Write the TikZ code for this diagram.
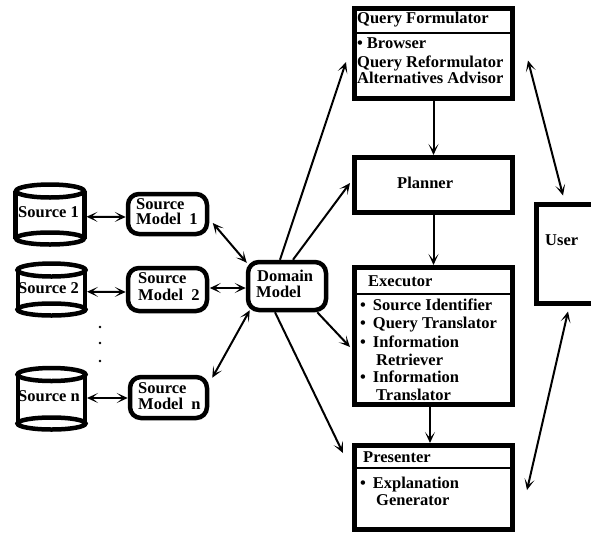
\documentclass[tikz,border=0pt]{standalone}
\usepackage{fontspec}
\setmainfont{Liberation Serif}
\usetikzlibrary{arrows.meta,calc}
\begin{document}
\begin{tikzpicture}[x=1pt,y=-1pt,
  lbl/.style={anchor=base west, inner sep=0pt, font=\fontsize{16.5}{16.5}\selectfont\bfseries},
  blk/.style={draw, line width=5pt, inner sep=0pt},
  rbox/.style={draw, line width=4.5pt, rounded corners=11pt, inner sep=0pt},
  cyl/.style={inner sep=0pt, outer sep=0pt},
  cylline/.style={line width=4.5pt},
  hdr/.style={line width=2.5pt},
  tip/.tip={Stealth[length=11pt,width=10pt,inset=6pt]},
  arr/.style={line width=2pt, -tip},
  darr/.style={line width=2pt, tip-tip}]
\clip (0,0) rectangle (591,533);

% right column boxes
\node[blk, minimum width=158pt, minimum height=90pt] (qf) at (433.5,53) {};
\draw[hdr] ($(qf.north west)+(0,27.5)$) -- ($(qf.north east)+(0,27.5)$);
\node[blk, minimum width=158pt, minimum height=55pt] (pl) at (433.5,185) {};
\node[blk, minimum width=158pt, minimum height=137pt] (ex) at (433.5,336) {};
\draw[hdr] ($(ex.north west)+(0,29)$) -- ($(ex.north east)+(0,29)$);
\node[blk, minimum width=158pt, minimum height=84pt] (pr) at (433.5,487.5) {};
\draw[hdr] ($(pr.north west)+(0,25)$) -- ($(pr.north east)+(0,25)$);
\node[blk, minimum width=64pt, minimum height=99pt] (user) at (568,253.5) {};

% source models and domain model
\node[rbox, minimum width=79pt, minimum height=40pt] (sm1) at (167.5,214) {};
\node[rbox, minimum width=79pt, minimum height=43pt] (sm2) at (167.5,289.5) {};
\node[rbox, minimum width=77pt, minimum height=41pt] (smn) at (168.5,397.5) {};
\node[rbox, minimum width=78pt, minimum height=48pt] (dm) at (287,286) {};

% sources (cylinders)
\node[cyl, minimum width=69pt, minimum height=47.5pt] (s1) at (50,214.75) {};
\node[cyl, minimum width=67pt, minimum height=39.5pt] (s2) at (51.5,289.75) {};
\node[cyl, minimum width=67pt, minimum height=49pt] (sn) at (51.5,399) {};
\foreach \s in {s1,s2,sn}{
  \draw[cylline] (\s.north west) -- (\s.south west) (\s.north east) -- (\s.south east);
  \draw[cylline, fill=white] (\s.north) ellipse [x radius=34, y radius=6.5];
  \draw[cylline, fill=white] (\s.south) ellipse [x radius=34, y radius=6];
}

% dots
\fill (100,327) circle (1.3);
\fill (100,343) circle (1.3);
\fill (100,361) circle (1.3);

% labels
\node[lbl] (qft) at (357,23.3) {Query Formulator};
\node[lbl] (qf1) at (357,48) {•\hskip4pt Browser};
\node[lbl] (qf2) at (357,67) {Query Reformulator};
\node[lbl] (qf3) at (357,83) {Alternatives Advisor};
\node[lbl] (plt) at (397,188) {Planner};
\node[lbl] (ust) at (545,245) {User};
\node[lbl] (ext) at (368,286) {Executor};
\node[lbl] (ex1) at (360,310) {•\hskip7pt Source Identifier};
\node[lbl] (ex2) at (360,328) {•\hskip7pt Query Translator};
\node[lbl] (ex3) at (360,347) {•\hskip7pt Information};
\node[lbl] (ex4) at (376,365) {Retriever};
\node[lbl] (ex5) at (360,382) {•\hskip7pt Information};
\node[lbl] (ex6) at (376,400) {Translator};
\node[lbl] (prt) at (363,462) {Presenter};
\node[lbl] (pr1) at (360,488) {•\hskip7pt Explanation};
\node[lbl] (pr2) at (376,505) {Generator};
\node[lbl] (s1t) at (18,217) {Source 1};
\node[lbl] (s2t) at (18,293) {Source 2};
\node[lbl] (snt) at (18,401) {Source n};
\node[lbl] (sm1a) at (136,209) {Source};
\node[lbl] (sm1b) at (136,224) {Model\ \ 1};
\node[lbl] (sm2a) at (138,283) {Source};
\node[lbl] (sm2b) at (138,300) {Model\ \ 2};
\node[lbl] (smna) at (138,393) {Source};
\node[lbl] (smnb) at (138,409) {Model\ \ n};
\node[lbl] (dma) at (257,281) {Domain};
\node[lbl] (dmb) at (256,297) {Model};

% connectors
\draw[darr] ($(s1.east)+(2,2)$) -- ($(sm1.west)+(0,3)$);
\draw[darr] ($(s2.east)+(2,2)$) -- ($(sm2.west)+(0,2.5)$);
\draw[darr] ($(sn.east)+(2,-1)$) -- ($(smn.west)+(0,0.5)$);
\draw[darr] ($(sm1.east)+(3.5,9)$) -- ($(dm.north west)+(1,3)$);
\draw[darr] ($(sm2.east)+(0.5,-1.5)$) -- ($(dm.west)+(0,2)$);
\draw[darr] ($(smn.north east)+(3,3)$) -- ($(dm.south west)+(4,-2)$);
\draw[arr] ($(dm.north)+(-7,0)$) -- ($(qf.west)+(-6,9)$);
\draw[arr] ($(dm.north)+(6,0)$) -- ($(pl.west)+(-2,-2)$);
\draw[arr] ($(dm.south east)+(-11,0)$) -- ($(ex.west)+(-2,11)$);
\draw[arr] ($(dm.south)+(-12,0)$) -- ($(pr.north west)+(-9,10)$);
\draw[arr] (qf.south) -- (pl.north);
\draw[arr] (pl.south) -- (ex.north);
\draw[arr] ($(ex.south)+(-3.5,0)$) -- ($(pr.north)+(-3.5,0)$);
\draw[darr] ($(qf.east)+(13,7.5)$) -- ($(user.north)+(-5,-6)$);
\draw[darr] ($(pr.east)+(12,2.5)$) -- ($(user.south)+(0,6)$);
\end{tikzpicture}
\end{document}
